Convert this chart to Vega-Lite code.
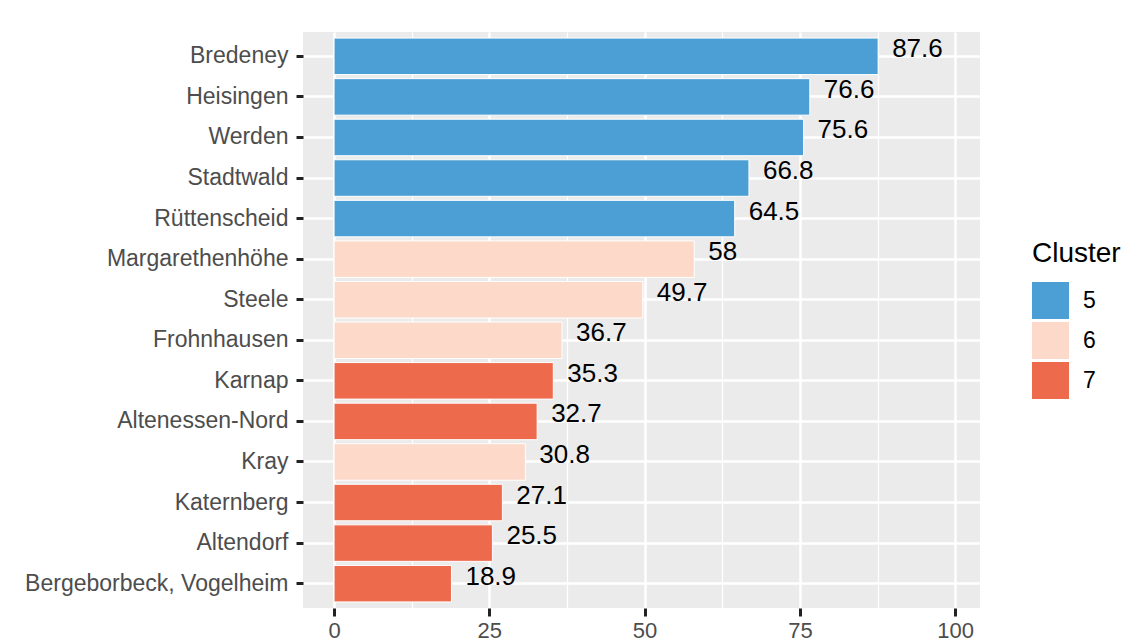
{
  "$schema": "https://vega.github.io/schema/vega-lite/v6.json",
  "width": 677,
  "height": 576,
  "autosize": {"type": "none"},
  "padding": {"left": 303, "top": 32, "right": 148, "bottom": 34},
  "background": "white",
  "config": {
    "font": "Liberation Sans",
    "view": {"fill": "#EBEBEB", "stroke": null}
  },
  "data": {
    "values": [
      {"Stadtteil": "Bredeney", "Wert": 87.6, "Cluster": "5"},
      {"Stadtteil": "Heisingen", "Wert": 76.6, "Cluster": "5"},
      {"Stadtteil": "Werden", "Wert": 75.6, "Cluster": "5"},
      {"Stadtteil": "Stadtwald", "Wert": 66.8, "Cluster": "5"},
      {"Stadtteil": "Rüttenscheid", "Wert": 64.5, "Cluster": "5"},
      {"Stadtteil": "Margarethenhöhe", "Wert": 58, "Cluster": "6"},
      {"Stadtteil": "Steele", "Wert": 49.7, "Cluster": "6"},
      {"Stadtteil": "Frohnhausen", "Wert": 36.7, "Cluster": "6"},
      {"Stadtteil": "Karnap", "Wert": 35.3, "Cluster": "7"},
      {"Stadtteil": "Altenessen-Nord", "Wert": 32.7, "Cluster": "7"},
      {"Stadtteil": "Kray", "Wert": 30.8, "Cluster": "6"},
      {"Stadtteil": "Katernberg", "Wert": 27.1, "Cluster": "7"},
      {"Stadtteil": "Altendorf", "Wert": 25.5, "Cluster": "7"},
      {"Stadtteil": "Bergeborbeck, Vogelheim", "Wert": 18.9, "Cluster": "7"}
    ]
  },
  "encoding": {
    "y": {
      "field": "Stadtteil",
      "type": "nominal",
      "sort": {"field": "Wert", "order": "descending"},
      "scale": {"paddingInner": 0.1, "paddingOuter": 0.15},
      "axis": {
        "title": null,
        "domain": false,
        "labelFontSize": 23,
        "labelLimit": 0,
        "labelColor": "#4D4D4D",
        "labelPadding": 8,
        "tickSize": 7,
        "tickWidth": 3,
        "tickColor": "#222222",
        "bandPosition": 0.5,
        "grid": true,
        "gridColor": "white",
        "gridWidth": 2.5
      }
    },
    "x": {
      "field": "Wert",
      "type": "quantitative",
      "scale": {"domain": [-5, 104], "nice": false, "zero": false},
      "axis": {
        "title": null,
        "domain": false,
        "values": [0, 12.5, 25, 37.5, 50, 62.5, 75, 87.5, 100],
        "labelExpr": "datum.value % 25 === 0 ? datum.label : ''",
        "labelFontSize": 22,
        "labelColor": "#4D4D4D",
        "labelPadding": 4,
        "tickSize": 8,
        "tickWidth": 3,
        "tickColor": "#222222",
        "tickOpacity": {"condition": {"test": "datum.value % 25 === 0", "value": 1}, "value": 0},
        "grid": true,
        "gridColor": "white",
        "gridWidth": {"condition": {"test": "datum.value % 25 === 0", "value": 2.5}, "value": 1.2}
      }
    }
  },
  "layer": [
    {
      "mark": {"type": "bar", "stroke": "white", "strokeWidth": 1},
      "encoding": {
        "x": {"field": "Wert", "type": "quantitative"},
        "x2": {"datum": 0},
        "color": {
          "field": "Cluster",
          "type": "nominal",
          "scale": {"domain": ["5", "6", "7"], "range": ["#4C9FD5", "#FCD9C8", "#EE6A4D"]},
          "legend": {
            "title": "Cluster",
            "orient": "none",
            "legendX": 729,
            "legendY": 208,
            "titleFontSize": 28,
            "titleFontWeight": "normal",
            "titleColor": "black",
            "titlePadding": 14,
            "labelFontSize": 23,
            "labelColor": "black",
            "labelOffset": 14,
            "symbolType": "square",
            "symbolSize": 1369,
            "symbolStrokeWidth": 0,
            "rowPadding": 3
          }
        }
      }
    },
    {
      "mark": {"type": "text", "align": "left", "baseline": "middle", "dx": 14, "dy": -7, "fontSize": 26, "color": "black"},
      "encoding": {
        "text": {"field": "Wert", "type": "quantitative"}
      }
    }
  ]
}
